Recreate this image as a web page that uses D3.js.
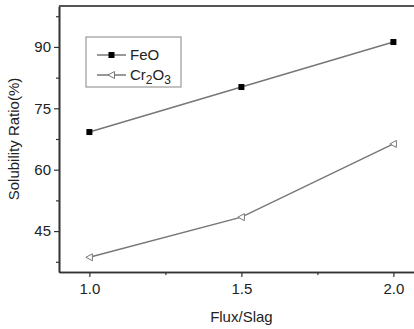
<!doctype html>
<html lang="en">
<head>
<meta charset="utf-8">
<style>
	body{margin:0;background:#fff;}
	text{font-family:"Liberation Sans",Arial,sans-serif;fill:#222;}
</style>
</head>
<body>
<div id="grafico"></div>
<script src="https://d3js.org/d3.v7.min.js"></script>
<script>

var ratios = [1.0, 1.5, 2.0];
var feo = [69.2, 80.2, 91.2];
var cr2o3 = [38.6, 48.4, 66.3];
var xTicks = [1.0, 1.5, 2.0];
var xMinor = [1.25, 1.75];
var yTicks = [45, 60, 75, 90];
var yMinor = [37.5, 52.5, 67.5, 82.5, 97.5];

var w = 414, h = 329;
var m = {top:6, left:59, bottom:272};

var x = d3.scaleLinear().domain([0.9, 2.1]).range([m.left, m.left + 1.2*304]);
var y = d3.scaleLinear().domain([35, 100]).range([m.bottom, m.top]);

var svg = d3.select("#grafico").append("svg").attr("width", w).attr("height", h);

// ejes
svg.append("g").attr("transform", "translate(0," + m.bottom + ")")
	.call(d3.axisBottom(x).tickValues(xTicks).tickFormat(d3.format(".1f")).tickSizeInner(5).tickSizeOuter(0).tickPadding(6));
svg.append("g").attr("transform", "translate(0," + m.bottom + ")")
	.call(d3.axisBottom(x).tickValues(xMinor).tickFormat("").tickSizeInner(3).tickSizeOuter(0));
svg.append("g").attr("transform", "translate(" + m.left + ",0)")
	.call(d3.axisLeft(y).tickValues(yTicks).tickSizeInner(5).tickSizeOuter(0).tickPadding(3));
svg.append("g").attr("transform", "translate(" + m.left + ",0)")
	.call(d3.axisLeft(y).tickValues(yMinor).tickFormat("").tickSizeInner(3).tickSizeOuter(0));

svg.selectAll(".domain").attr("stroke", "#333").attr("stroke-width", 1.6);
svg.selectAll(".tick line").attr("stroke", "#333").attr("stroke-width", 1.2);
svg.selectAll(".tick text").style("font-size", "15px").attr("fill", "#222");

// borde superior
svg.append("line").attr("x1", m.left).attr("x2", x(2.1)).attr("y1", y(100)).attr("y2", y(100))
	.attr("stroke", "#555").attr("stroke-width", 2);

// titulos
svg.append("text").text("Flux/Slag").attr("x", x(1.5)).attr("y", 322)
	.attr("text-anchor", "middle").style("font-size", "15px");
svg.append("text").text("Solubility Ratio(%)")
	.attr("transform", "translate(19," + y(67.5) + ") rotate(-90)")
	.attr("text-anchor", "middle").style("font-size", "15px");

// series
var linea = d3.line().x(function(d){ return x(d[0]) }).y(function(d){ return y(d[1]) });
var tri = "M-3.5,0L3,-3.5L3,3.5Z";

svg.append("path").datum(d3.zip(ratios, feo)).attr("d", linea)
	.attr("fill", "none").attr("stroke", "#777").attr("stroke-width", 1.5);
svg.append("path").datum(d3.zip(ratios, cr2o3)).attr("d", linea)
	.attr("fill", "none").attr("stroke", "#777").attr("stroke-width", 1.5);

svg.selectAll(".sq").data(d3.zip(ratios, feo)).enter().append("rect")
	.attr("x", function(d){ return x(d[0]) - 3 }).attr("y", function(d){ return y(d[1]) - 3 })
	.attr("width", 6).attr("height", 6).attr("fill", "#000");
svg.selectAll(".tr").data(d3.zip(ratios, cr2o3)).enter().append("path")
	.attr("d", tri).attr("transform", function(d){ return "translate(" + x(d[0]) + "," + y(d[1]) + ")" })
	.attr("fill", "#fff").attr("stroke", "#777").attr("stroke-width", 1);

// leyenda
var ley = svg.append("g").attr("transform", "translate(86,37)");
ley.append("rect").attr("width", 95).attr("height", 50).attr("fill", "#fff")
	.attr("stroke", "#999").attr("stroke-width", 1.2);
var items = [{nombre:"FeO", marca:"sq"}, {nombre:"Cr2O3", marca:"tr"}];
var g = ley.selectAll(".it").data(items).enter().append("g")
	.attr("transform", function(d,i){ return "translate(0," + (18 + 20*i) + ")" });
g.append("line").attr("x1", 11).attr("x2", 40).attr("stroke", "#777").attr("stroke-width", 1.5);
g.filter(function(d){ return d.marca == "sq" }).append("rect")
	.attr("x", 22.5).attr("y", -3).attr("width", 6).attr("height", 6).attr("fill", "#000");
g.filter(function(d){ return d.marca == "tr" }).append("path")
	.attr("d", tri).attr("transform", "translate(25.5,0)")
	.attr("fill", "#fff").attr("stroke", "#777").attr("stroke-width", 1);
var t = g.append("text").attr("x", 44).attr("y", 5).style("font-size", "15px");
t.each(function(d){
	var el = d3.select(this);
	if (d.nombre == "FeO") { el.text("FeO"); return; }
	el.append("tspan").text("Cr");
	el.append("tspan").text("2").attr("dy", 4).style("font-size", "12px");
	el.append("tspan").text("O").attr("dy", -4);
	el.append("tspan").text("3").attr("dy", 4).style("font-size", "12px");
});

</script>
</body>
</html>
